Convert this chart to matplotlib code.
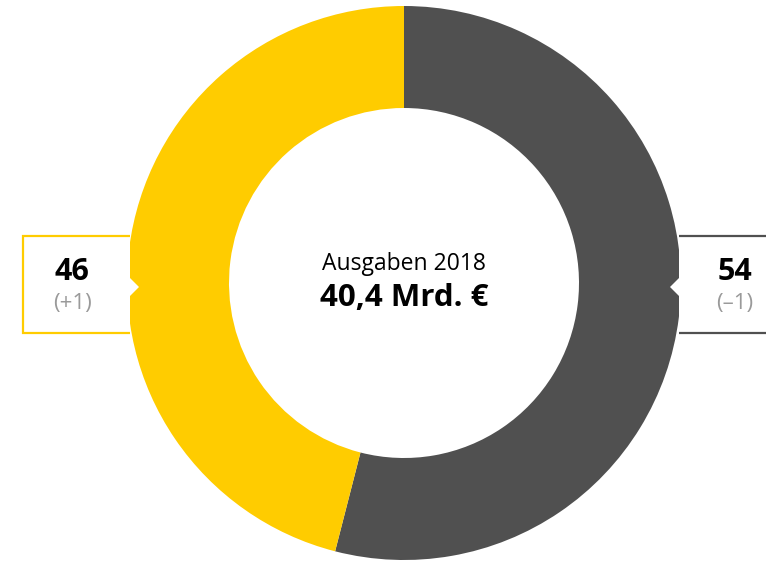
"""Donut chart of the 2018 budget split."""
import matplotlib
matplotlib.use('Agg')
import matplotlib.pyplot as plt
from matplotlib.patches import Polygon

plt.rcParams['font.family'] = ['Open Sans', 'DejaVu Sans']

# Shares in percent, drawn clockwise from 12 o'clock
segments = ['dark', 'yellow']
shares = [54, 46]
changes = ['\u20131', '+1']
colors = ['#505050', '#FFCC00']
title = 'Ausgaben 2018'
total = '40,4 Mrd. \u20ac'

W, H = 766, 562
fig = plt.figure(figsize=(W / 100, H / 100), dpi=100)
ax = fig.add_axes([0, 0, 1, 1])

cx, cy = 404, H - 283
r_out, r_in = 277, 175

ax.pie(shares, colors=colors, startangle=90, counterclock=False,
       radius=r_out, center=(cx, cy), frame=True,
       wedgeprops=dict(width=r_out - r_in, linewidth=0))

ax.set_xlim(0, W)
ax.set_ylim(0, H)
ax.set_aspect('equal')
ax.axis('off')

# Label boxes with a small pointer cutting into the ring
box_top, box_bot = H - 236, H - 333
mid = H - 287
tip, half = 9, 9


def label_box(x_outer, x_ring, side, edge_color, value, change, xc):
    d = 1 if side == 'left' else -1
    pts = [(x_outer, box_top), (x_ring, box_top), (x_ring, mid + half),
           (x_ring + d * tip, mid), (x_ring, mid - half),
           (x_ring, box_bot), (x_outer, box_bot)]
    ax.add_patch(Polygon(pts, closed=True, facecolor='white',
                         edgecolor='none', zorder=3))
    xs = [x_ring, x_outer, x_outer, x_ring]
    ys = [box_top, box_top, box_bot, box_bot]
    ax.plot(xs, ys, color=edge_color, linewidth=1.6, zorder=4,
            solid_capstyle='butt', solid_joinstyle='miter')
    ax.text(xc, H - 272, f'{value}', ha='center', va='center',
            fontsize=22, fontweight='bold', color='black', zorder=5)
    ax.text(xc, H - 304, f'({change})', ha='center', va='center',
            fontsize=16, color='#9a9a9a', zorder=5)


label_box(23, 130, 'left', colors[1], shares[1], changes[1], 72)
label_box(W + 5, 679, 'right', '#505050', shares[0], changes[0], 735)

ax.text(cx, H - 264, title, ha='center', va='center',
        fontsize=16.5, color='black')
ax.text(cx, H - 298, total, ha='center', va='center',
        fontsize=22.5, fontweight='bold', color='black')

fig.savefig('out.png', dpi=100)
plt.close(fig)
